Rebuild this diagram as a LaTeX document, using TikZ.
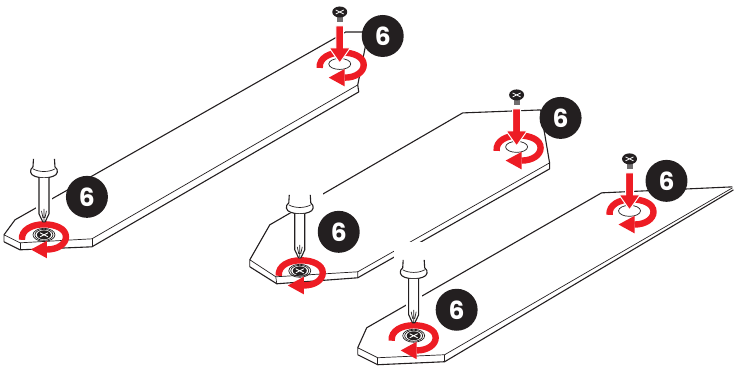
\documentclass[tikz,border=0pt]{standalone}
\usepackage{fontspec}
\setsansfont{Poppins}
\definecolor{turnred}{HTML}{ED1C24}
\definecolor{badgeblack}{HTML}{231F20}
\usetikzlibrary{positioning}

\begin{document}
\begin{tikzpicture}[
    x=1pt, y=-1pt,
    badge/.style={circle, fill=badgeblack, text=white, minimum size=42pt, inner sep=0pt, font=\sffamily\bfseries\fontsize{25}{25}\selectfont},
    outline/.style={line width=1.1pt, line join=round, color=badgeblack},
    edgeline/.style={line width=0.7pt, line join=round, color=badgeblack},
    turnarrow/.pic={
        \draw[turnred, line width=6.4pt] (-22,5) .. controls (-23,-5) and (-12,-10.5) .. (0,-10.5) .. controls (12,-10.5) and (22,-6) .. (22,2) .. controls (22,9) and (14,14.7) .. (3,14.7);
        \fill[turnred] (3,6) -- (3,23.5) -- (-13,14.7) -- cycle;
    },
    dropscrew/.pic={
        \draw[edgeline] (0,0) ellipse (11 and 5.5);
        \fill[badgeblack!65] (-3,-47) rectangle (3,-42);
        \fill[badgeblack] (0,-52) ellipse (7.5 and 5.5);
        \draw[white, line width=0.8pt] (-4,-54) -- (4,-50) (-4,-50) -- (4,-54);
    },
    dropred/.pic={
        \draw[white, line width=1pt, fill=turnred] (-4,-37) -- (4,-37) -- (4,-15) -- (10.5,-15) -- (0,0) -- (-10.5,-15) -- (-4,-15) -- cycle;
    },
    driverhalo/.pic={
        \fill[white] (-20,-94) rectangle (23,-58);
        \fill[white] (-8,-58) rectangle (8,-20);
    },
    driver/.pic={
        \draw[outline, fill=white] (-10.5,-76) -- (-11,-68) .. controls (-15,-65) and (-14,-60) .. (-9,-58.5) .. controls (-4,-56.5) and (4,-56.5) .. (9,-58.5) .. controls (14,-60) and (15,-65) .. (11,-68) -- (10.5,-76);
        \draw[edgeline] (-11,-66) .. controls (-5,-62.5) and (5,-62.5) .. (11,-66);
        \draw[outline, fill=white] (-5,-57) -- (-5,-21) -- (-1.2,-13) -- (1.2,-13) -- (5,-21) -- (5,-57);
        \draw[edgeline] (0,-26) -- (0,-14) (-2.5,-24) -- (-1,-17) (2.5,-24) -- (1,-17);
    },
    headscrew/.pic={
        \draw[edgeline] (0,0) ellipse (11 and 6.5);
        \draw[edgeline] (0,0) ellipse (9 and 5.5);
        \fill[badgeblack] (0,0) ellipse (7 and 4.5);
        \draw[white, line width=0.9pt] (-4,-2) -- (4,2) (-4,2) -- (4,-2);
    },
]
    % left board
    \draw[outline] (4,235) -- (15,220) -- (346,32) -- (368.5,32) -- (358,85);
    \draw[edgeline] (358,85) -- (92,239) -- (20,243) -- (4,235) -- (4,242);
    \draw[outline] (4,242) -- (20,250) -- (92,247) -- (359,92) -- (358,85);
    \draw[edgeline] (20,243) -- (20,250) (92,239) -- (92,247);

    % middle board
    \draw[outline] (250,260) -- (270,225) -- (463,113) -- (541,110) -- (550,163);
    \draw[edgeline] (550,163) -- (358,272) -- (276,277) -- (250,260) -- (250,267);
    \draw[outline] (250,267) -- (277,284) -- (358,278) -- (550,169) -- (550,163);
    \draw[edgeline] (276,277) -- (277,284) (358,272) -- (358,278);

    % right board
    \draw[outline] (358,348) -- (367,328) -- (602,193) -- (733,187);
    \draw[edgeline] (733,188) -- (445,355) -- (378,358) -- (358,348) -- (358,355);
    \draw[outline] (358,355) -- (378,365) -- (445,362) -- (734,190);
    \draw[edgeline] (378,358) -- (378,365) (445,355) -- (445,362);

    % far ends
    \pic at (340,64) {dropscrew};
    \pic at (342,63) {turnarrow};
    \pic at (340,63) {dropred};
    \pic at (517,147) {dropscrew};
    \pic at (519,146) {turnarrow};
    \pic at (517,146) {dropred};
    \pic at (630,211) {dropscrew};
    \pic at (632,210) {turnarrow};
    \pic at (630,210) {dropred};

    % near ends
    \pic at (44,235) {driverhalo};
    \pic at (300,271) {driverhalo};
    \pic at (414,336) {driverhalo};
    \pic at (44,235) {headscrew};
    \pic at (300,271) {headscrew};
    \pic at (414,336) {headscrew};
    \pic at (44,235) {turnarrow};
    \pic at (301,271) {turnarrow};
    \pic at (414,336) {turnarrow};
    \pic at (44,235) {driver};
    \pic at (300,271) {driver};
    \pic at (414,336) {driver};

    \node[badge] (b1) at (383,36) {6};
    \node[badge] (b2) at (87,197) {6};
    \node[badge] (b3) at (561,118) {6};
    \node[badge] (b4) at (339,232) {6};
    \node[badge] (b5) at (667,181) {6};
    \node[badge] (b6) at (457,310) {6};

    \useasboundingbox (0,0) rectangle (734,366);
\end{tikzpicture}
\end{document}
